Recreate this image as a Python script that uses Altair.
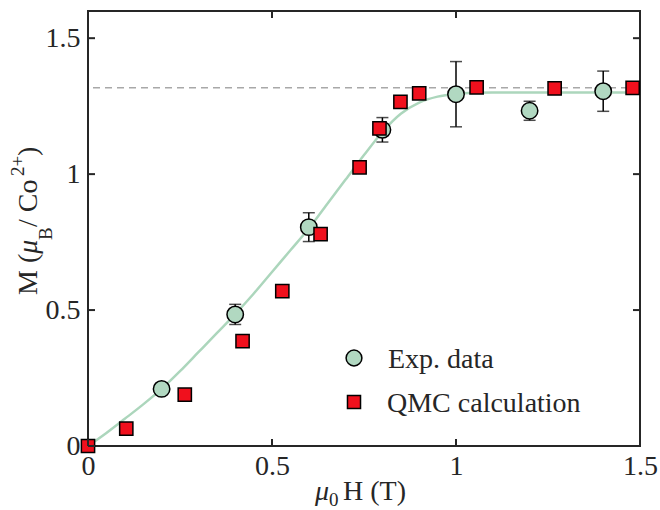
import altair as alt
import pandas as pd

# ---- data ----
exp_x = [0.2, 0.4, 0.6, 0.8, 1.0, 1.2, 1.4]
exp_m = [0.21, 0.484, 0.805, 1.163, 1.294, 1.233, 1.305]
exp_err = [0.015, 0.037, 0.053, 0.045, 0.12, 0.035, 0.074]

qmc_x = [0.0, 0.104, 0.263, 0.42, 0.528, 0.632, 0.738, 0.792, 0.849, 0.9, 1.056, 1.268, 1.48]
qmc_m = [0.0, 0.064, 0.189, 0.386, 0.57, 0.779, 1.025, 1.168, 1.266, 1.297, 1.319, 1.315, 1.317]

fit_x = [0, 0.05, 0.1, 0.15, 0.2, 0.25, 0.3, 0.35, 0.4, 0.45, 0.5, 0.55, 0.6, 0.65,
         0.7, 0.75, 0.8, 0.85, 0.9, 0.95, 1.0, 1.05, 1.1, 1.2, 1.3, 1.4, 1.5]
fit_m = [0, 0.048, 0.1, 0.153, 0.21, 0.275, 0.345, 0.415, 0.485, 0.56, 0.64, 0.72, 0.80, 0.89,
         0.98, 1.07, 1.155, 1.222, 1.263, 1.285, 1.295, 1.299, 1.30, 1.30, 1.30, 1.30, 1.30]

sat_level = [1.318]
x_ticks = [0, 0.5, 1, 1.5]
y_ticks = [0, 0.5, 1, 1.5]
legend_labels = ["Exp. data", "QMC calculation"]
ytitle_parts = ["M (", "\u03bc", "B", " / Co", "2+", ")"]
xtitle_parts = ["\u03bc", "0", "H (T)"]

FONT = "Liberation Serif"
GREEN = "#b1d8c1"
LINE_GREEN = "#acd6bc"
RED = "#f0101d"
INK = "#262626"
W, H = 552, 435

xsc = alt.Scale(domain=[0, 1.5], nice=False, zero=False)
ysc = alt.Scale(domain=[0, 1.6], nice=False, zero=False)

AX_X = alt.Axis(values=x_ticks, format="~g", title=None, ticks=False, domain=False, grid=False,
                labelFont=FONT, labelFontSize=28, labelColor=INK, labelPadding=6,
                labelFlush=False, labelOverlap=False)
AX_Y = alt.Axis(values=y_ticks, format="~g", title=None, ticks=False, domain=False, grid=False,
                labelFont=FONT, labelFontSize=28, labelColor=INK, labelPadding=8,
                labelFlush=False, labelOverlap=False)


def X(field):
    return alt.X(field, scale=xsc, axis=AX_X, title=None)


def Y(field):
    return alt.Y(field, scale=ysc, axis=AX_Y, title=None)


exp_df = pd.DataFrame({"x": exp_x, "m": exp_m, "err": exp_err})
exp_df["lo"] = exp_df["m"] - exp_df["err"]
exp_df["hi"] = exp_df["m"] + exp_df["err"]
qmc_df = pd.DataFrame({"x": qmc_x, "m": qmc_m})
fit_df = pd.DataFrame({"x": fit_x, "m": fit_m})

curve = alt.Chart(fit_df).mark_line(color=LINE_GREEN, strokeWidth=2.5, interpolate="monotone").encode(
    x=X("x:Q"), y=Y("m:Q"))

dashed = alt.Chart(pd.DataFrame({"m": sat_level})).mark_rule(
    color="#a8a8a8", strokeWidth=1.5, strokeDash=[7, 5]).encode(y=Y("m:Q"))

err_rule = alt.Chart(exp_df).mark_rule(color="black", strokeWidth=1.5).encode(
    x=X("x:Q"), y=Y("lo:Q"), y2="hi:Q")
cap_lo = alt.Chart(exp_df).mark_tick(orient="horizontal", size=12, thickness=1.5, color="black").encode(
    x=X("x:Q"), y=Y("lo:Q"))
cap_hi = alt.Chart(exp_df).mark_tick(orient="horizontal", size=12, thickness=1.5, color="black").encode(
    x=X("x:Q"), y=Y("hi:Q"))

circles = alt.Chart(exp_df).mark_point(shape="circle", filled=True, fill=GREEN, stroke="black",
                                       strokeWidth=1.5, size=270, opacity=1).encode(
    x=X("x:Q"), y=Y("m:Q"))

squares = alt.Chart(qmc_df).mark_point(shape="square", filled=True, fill=RED, stroke="black",
                                       strokeWidth=1.5, size=175, opacity=1).encode(
    x=X("x:Q"), y=Y("m:Q"))

# inward ticks on all four sides
xt_df = pd.DataFrame({"t": x_ticks})
yt_df = pd.DataFrame({"t": y_ticks})
tick_layers = [
    alt.Chart(yt_df).mark_rule(color=INK, strokeWidth=2).encode(
        y=Y("t:Q"), x=alt.value(0), x2=alt.value(7)),
    alt.Chart(yt_df).mark_rule(color=INK, strokeWidth=2).encode(
        y=Y("t:Q"), x=alt.value(W - 7), x2=alt.value(W)),
    alt.Chart(xt_df).mark_rule(color=INK, strokeWidth=2).encode(
        x=X("t:Q"), y=alt.value(H - 7), y2=alt.value(H)),
    alt.Chart(xt_df).mark_rule(color=INK, strokeWidth=2).encode(
        x=X("t:Q"), y=alt.value(0), y2=alt.value(7)),
]


def label(text, x, y, size=28, angle=0, italic=False):
    return alt.Chart(pd.DataFrame({"t": [text]})).mark_text(
        font=FONT, fontSize=size, color=INK, align="left", baseline="alphabetic",
        angle=angle, fontStyle="italic" if italic else "normal").encode(
        text="t:N", x=alt.value(x), y=alt.value(y))


# y-axis title pieces (rotated, reading bottom to top)
ytitle = [
    label(ytitle_parts[0], -51, 284, 28, 270),
    label(ytitle_parts[1], -51, 242.8, 28, 270, italic=True),
    label(ytitle_parts[2], -36, 229, 19, 270),
    label(ytitle_parts[3], -51, 216, 28, 270),
    label(ytitle_parts[4], -64, 165, 19, 270),
    label(ytitle_parts[5], -51, 145, 28, 270),
]
# x-axis title pieces
xtitle = [
    label(xtitle_parts[0], 227, 489, 28, italic=True),
    label(xtitle_parts[1], 241, 495, 19),
    label(xtitle_parts[2], 255, 489, 28),
]

# legend
leg_circle = alt.Chart(pd.DataFrame({"t": [legend_labels[0]]})).mark_point(
    shape="circle", filled=True, fill=GREEN, stroke="black", strokeWidth=1.5, size=250, opacity=1).encode(
    x=alt.value(266), y=alt.value(347))
leg_square = alt.Chart(pd.DataFrame({"t": [legend_labels[1]]})).mark_point(
    shape="square", filled=True, fill=RED, stroke="black", strokeWidth=1.5, size=170, opacity=1).encode(
    x=alt.value(266), y=alt.value(391))
legend = [leg_circle, label(legend_labels[0], 300, 357, 28),
          leg_square, label(legend_labels[1], 299, 401, 28)]

chart = alt.layer(
    curve, dashed, err_rule, cap_lo, cap_hi, circles, squares, *tick_layers, *ytitle, *xtitle, *legend
).properties(
    width=W, height=H, autosize="none", background="white",
    padding={"left": 88, "top": 11, "right": 20, "bottom": 64},
).configure_view(
    stroke=INK, strokeWidth=2
)

chart.save("out.html", embed_options={"renderer": "svg", "actions": False})
